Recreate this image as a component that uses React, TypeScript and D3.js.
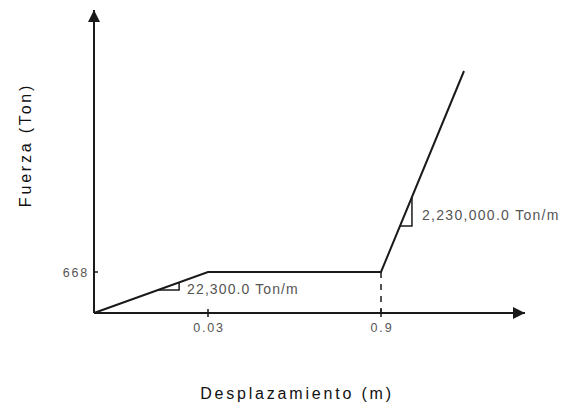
import React, { useEffect, useRef } from 'react';
import * as d3 from 'd3';

// bilinear model: displacement (m) vs force (Ton), drawn schematically
const displacement = [0, 0.03, 0.9, 1.0];
const force = [0, 668, 668, 3000];
const xTickValues = [0.03, 0.9];
const xTickLabels = ['0.03', '0.9'];
const yTickValues = [668];
const yTickLabels = ['668'];
const stiffnessLabels = ['22,300.0 Ton/m', '2,230,000.0 Ton/m'];

export default function App() {
  const svgRef = useRef<SVGSVGElement>(null);

  useEffect(() => {
    if (!svgRef.current) return;
    const svg = d3.select(svgRef.current);
    svg.selectAll('*').remove();

    const ink = '#1a1a1a';
    const grey = '#555';
    const font = 'Liberation Sans, Arial, sans-serif';
    const origin = { x: 94, y: 313 };

    // piecewise scales (the drawing is not to scale)
    const x = d3.scaleLinear().domain(displacement).range([origin.x, 208, 381, 464]);
    const y = d3.scaleLinear().domain([0, 668, 3000]).range([origin.y, 272, 71]);

    const defs = svg.append('defs');
    defs.append('marker')
      .attr('id', 'arrow')
      .attr('viewBox', '0 0 10 10')
      .attr('refX', 10)
      .attr('refY', 5)
      .attr('markerWidth', 14)
      .attr('markerHeight', 12)
      .attr('markerUnits', 'userSpaceOnUse')
      .attr('orient', 'auto')
      .append('path')
      .attr('d', 'M0,0L10,5L0,10Z')
      .attr('fill', ink);

    // axes
    svg.append('line')
      .attr('x1', origin.x).attr('y1', origin.y)
      .attr('x2', 525).attr('y2', origin.y)
      .attr('stroke', ink).attr('stroke-width', 2)
      .attr('marker-end', 'url(#arrow)');
    svg.append('line')
      .attr('x1', origin.x).attr('y1', origin.y)
      .attr('x2', origin.x).attr('y2', 10)
      .attr('stroke', ink).attr('stroke-width', 2)
      .attr('marker-end', 'url(#arrow)');

    // x ticks
    xTickValues.forEach((v, i) => {
      svg.append('line')
        .attr('x1', x(v)).attr('x2', x(v))
        .attr('y1', origin.y - 4).attr('y2', origin.y + 4)
        .attr('stroke', ink).attr('stroke-width', 1.5);
      svg.append('text')
        .attr('x', x(v) + 1).attr('y', origin.y + 19)
        .attr('text-anchor', 'middle')
        .attr('font-family', font)
        .attr('font-size', 12.5)
        .attr('letter-spacing', 1.8)
        .attr('fill', grey)
        .text(xTickLabels[i]);
    });

    // y ticks
    yTickValues.forEach((v, i) => {
      svg.append('line')
        .attr('x1', origin.x).attr('x2', origin.x + 4)
        .attr('y1', y(v)).attr('y2', y(v))
        .attr('stroke', ink).attr('stroke-width', 1.5);
      svg.append('text')
        .attr('x', origin.x - 5).attr('y', y(v) + 5)
        .attr('text-anchor', 'end')
        .attr('font-family', font)
        .attr('font-size', 12.5)
        .attr('letter-spacing', 1.8)
        .attr('fill', grey)
        .text(yTickLabels[i]);
    });

    // dashed drop line at yield end
    svg.append('line')
      .attr('x1', x(0.9)).attr('x2', x(0.9))
      .attr('y1', y(668)).attr('y2', origin.y)
      .attr('stroke', ink).attr('stroke-width', 1.5)
      .attr('stroke-dasharray', '6,6');

    // force-displacement curve
    const line = d3.line<number>()
      .x((d: number) => x(d))
      .y((_: number, i: number) => y(force[i]));
    svg.append('path')
      .datum(displacement)
      .attr('fill', 'none')
      .attr('stroke', ink)
      .attr('stroke-width', 2)
      .attr('d', line);

    // slope triangles
    const tri = (d0: number, d1: number, seg: number) => {
      const f = (d: number) => force[seg] + (force[seg + 1] - force[seg]) * (d - displacement[seg]) / (displacement[seg + 1] - displacement[seg]);
      const p0 = [x(d0), y(f(d0))];
      const p1 = [x(d1), y(f(d1))];
      svg.append('path')
        .attr('d', `M${p0[0]},${p0[1]}L${p1[0]},${p0[1]}L${p1[0]},${p1[1]}`)
        .attr('fill', 'none')
        .attr('stroke', ink)
        .attr('stroke-width', 1.5);
      return p1;
    };
    const t1 = tri(0.0168, 0.0224, 0);
    svg.append('text')
      .attr('x', t1[0] + 8).attr('y', t1[1] + 12)
      .attr('font-family', font)
      .attr('font-size', 14)
      .attr('letter-spacing', 1.1)
      .attr('fill', grey)
      .text(stiffnessLabels[0]);
    const t2 = tri(0.9229, 0.9373, 2);
    svg.append('text')
      .attr('x', t2[0] + 10).attr('y', t2[1] + 23)
      .attr('font-family', font)
      .attr('font-size', 14)
      .attr('letter-spacing', 1.3)
      .attr('fill', grey)
      .text(stiffnessLabels[1]);

    // axis titles
    svg.append('text')
      .attr('transform', 'translate(31,145) rotate(-90)')
      .attr('text-anchor', 'middle')
      .attr('font-family', font)
      .attr('font-size', 16)
      .attr('letter-spacing', 2.8)
      .attr('fill', '#111')
      .text('Fuerza (Ton)');
    svg.append('text')
      .attr('x', 297).attr('y', 399)
      .attr('text-anchor', 'middle')
      .attr('font-family', font)
      .attr('font-size', 16)
      .attr('letter-spacing', 2.8)
      .attr('fill', '#111')
      .text('Desplazamiento (m)');
  }, []);

  return (
    <div style={{ position: 'absolute', left: 0, top: 0, width: 571, height: 406 }}>
      <svg ref={svgRef} width={571} height={406} style={{ display: 'block', background: '#fff' }} />
    </div>
  );
}
